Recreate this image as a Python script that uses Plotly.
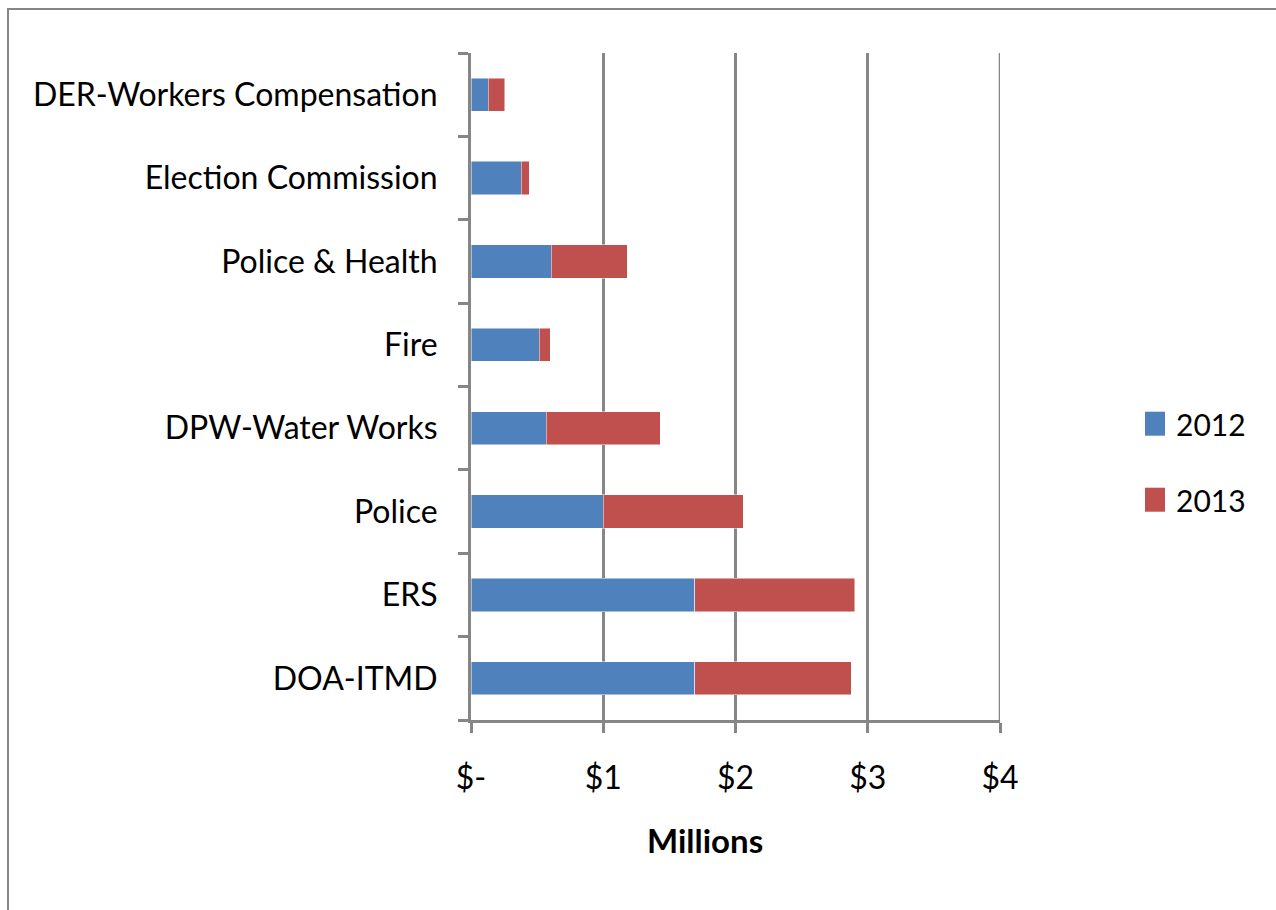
import plotly.graph_objects as go

# Departments, listed bottom to top
departments = [
    "DOA-ITMD",
    "ERS",
    "Police",
    "DPW-Water Works",
    "Fire",
    "Police & Health",
    "Election Commission",
    "DER-Workers Compensation",
]

# Amounts in millions of dollars
values_2012 = [1.69, 1.69, 1.00, 0.57, 0.515, 0.605, 0.38, 0.13]
values_2013 = [1.185, 1.21, 1.06, 0.86, 0.085, 0.575, 0.06, 0.125]

series_names = ["2012", "2013"]
series_colors = ["#4F81BD", "#C0504D"]

x_tick_values = [0, 1, 2, 3, 4]
x_tick_labels = ["$-", "$1", "$2", "$3", "$4"]

FONT = "Lato"
GRAY = "#868686"

fig = go.Figure()
for name, vals, color in zip(series_names, [values_2012, values_2013], series_colors):
    fig.add_trace(go.Bar(
        y=departments,
        x=vals,
        name=name,
        orientation="h",
        marker=dict(color=color, line=dict(color="rgba(255,255,255,0.6)", width=0.8)),
        showlegend=False,
    ))

# Plot area spans 471..1000 px horizontally, 53..720 px vertically
W, H = 1276, 910
L, R, T, B = 471, 276, 53, 190
pw, ph = W - L - R, H - T - B

def px_x(p):
    return (p - L) / pw

def px_y(p):
    return (H - B - p) / ph

shapes = [
    # outer chart border
    dict(type="rect", xref="paper", yref="paper",
         x0=px_x(8), x1=px_x(1300), y0=px_y(930), y1=px_y(9),
         line=dict(color=GRAY, width=2), fillcolor="rgba(0,0,0,0)", layer="below"),
    # gridline at the right end of the value axis
    dict(type="line", xref="x", yref="paper",
         x0=x_tick_values[-1], x1=x_tick_values[-1], y0=0, y1=1,
         line=dict(color=GRAY, width=2.5), layer="below"),
]

annotations = []
# manual legend: colored squares with labels
legend_rows = [423.7, 499.7]
for name, color, cy in zip(series_names, series_colors, legend_rows):
    shapes.append(dict(type="rect", xref="paper", yref="paper",
                       x0=px_x(1145), x1=px_x(1165), y0=px_y(cy + 12), y1=px_y(cy - 12),
                       line=dict(width=0), fillcolor=color))
    annotations.append(dict(text=name, xref="paper", yref="paper",
                            x=px_x(1174), y=px_y(cy), xanchor="left", yanchor="middle",
                            showarrow=False, font=dict(family=FONT, size=30, color="black")))

# axis title
annotations.append(dict(text="<b>Millions</b>", xref="paper", yref="paper",
                        x=px_x(705), y=px_y(840), xanchor="center", yanchor="middle",
                        showarrow=False, font=dict(family=FONT, size=33, color="black")))

fig.update_layout(
    barmode="stack",
    bargap=0.6,
    width=W, height=H,
    margin=dict(l=L, r=R, t=T, b=B, pad=0),
    paper_bgcolor="white",
    plot_bgcolor="white",
    font=dict(family=FONT, size=32, color="black"),
    shapes=shapes,
    annotations=annotations,
    xaxis=dict(
        range=[0, 4],
        tickvals=x_tick_values,
        ticktext=x_tick_labels,
        showgrid=True, gridcolor=GRAY, gridwidth=2.5,
        zeroline=False,
        showline=True, linecolor=GRAY, linewidth=3,
        ticks="outside", ticklen=10, tickwidth=2.5, tickcolor=GRAY,
        tickfont=dict(family=FONT, size=32),
        ticklabelstandoff=18,
        fixedrange=True,
    ),
    yaxis=dict(
        categoryorder="array", categoryarray=departments,
        showgrid=False, zeroline=False,
        showline=True, linecolor=GRAY, linewidth=3,
        ticks="outside", tickson="boundaries", ticklen=10, tickwidth=2.5, tickcolor=GRAY,
        tickfont=dict(family=FONT, size=32),
        ticklabelstandoff=24,
        fixedrange=True,
    ),
)

fig.write_html("out.html")
